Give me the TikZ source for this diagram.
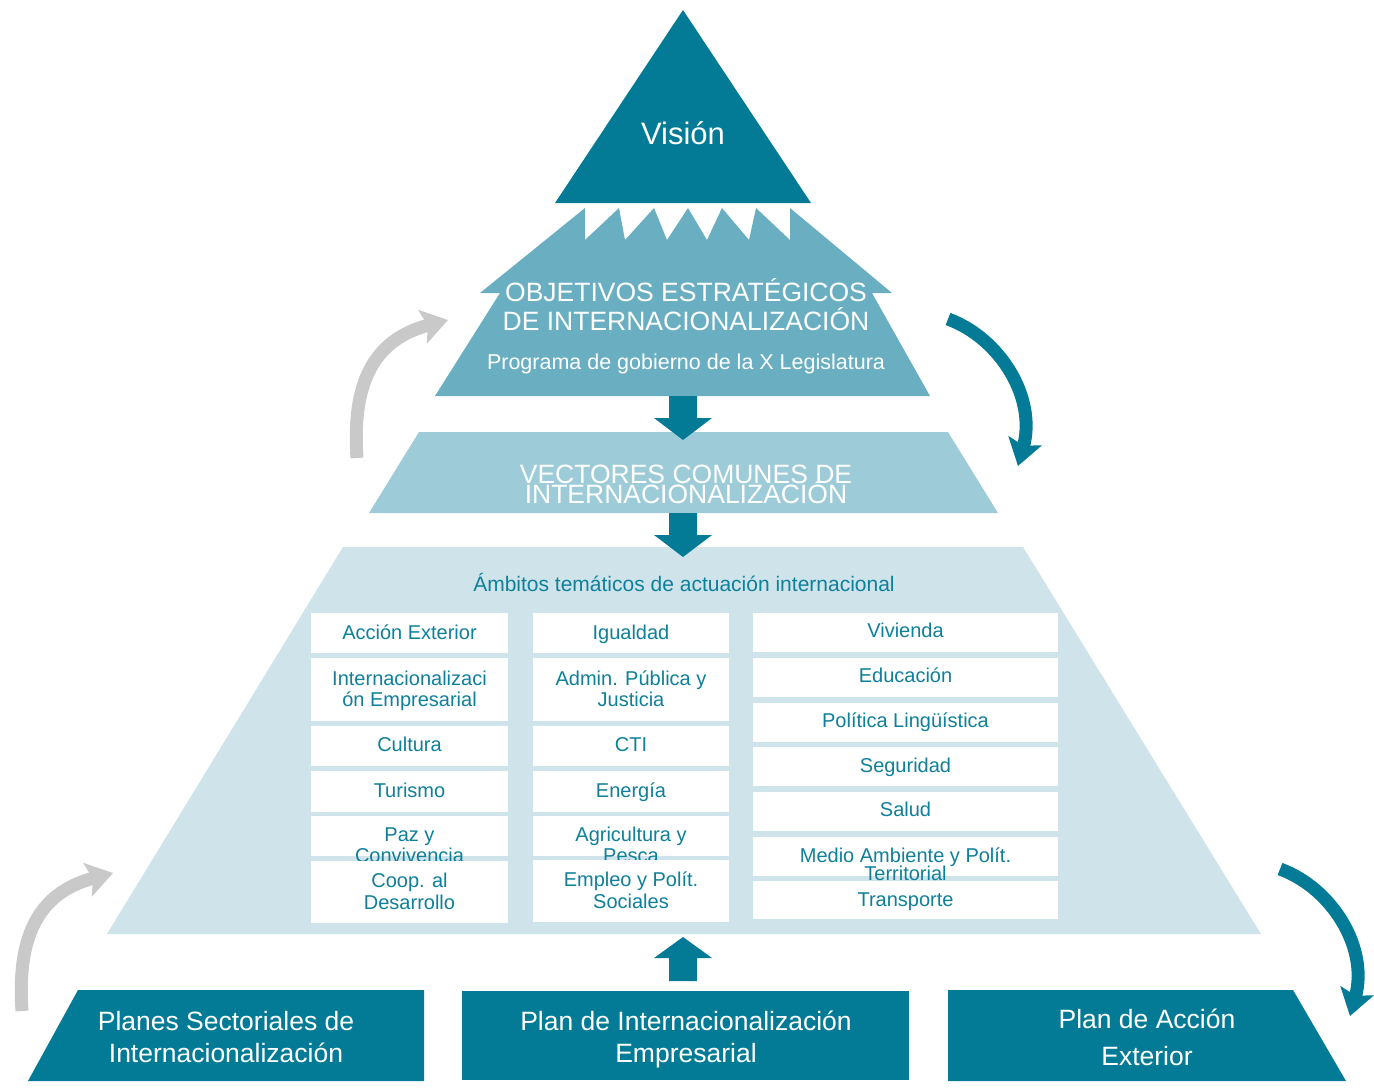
\documentclass[tikz,border=0pt]{standalone}
\usepackage{fontspec}
\setmainfont{Liberation Sans}
\usetikzlibrary{positioning, arrows.meta, calc}

\definecolor{darkteal}{HTML}{037B96}
\definecolor{objblue}{HTML}{69AFC1}
\definecolor{vecblue}{HTML}{9DCCD8}
\definecolor{ambblue}{HTML}{CEE4EA}
\definecolor{arcgray}{HTML}{C9C9C9}
\definecolor{celltxt}{HTML}{0F809A}

\def\tightlines{\lineskiplimit=-100pt\relax}

\tikzset{
    bigtext/.style={text=white, font=\fontsize{26.5}{32}\selectfont, align=center, inner sep=0pt},
    celltext/.style={text=celltxt, align=center, inner sep=0pt},
    oneline/.style={text height=14.5pt, text depth=0pt},
    twoline/.style={},
    grayarc/.style={draw=arcgray, line width=13pt, -{Stealth[length=26pt, width=34pt, inset=5pt]}},
    tealarc/.style={draw=darkteal, line width=13pt, -{Stealth[length=26pt, width=34pt, inset=5pt]}},
}

\begin{document}
\begin{tikzpicture}[x=1pt, y=-1pt]
    \useasboundingbox (0,0) rectangle (1374,1089);

    % vision
    \fill[darkteal] (683,10) -- (811,203) -- (555,203) -- cycle;
    \node[bigtext, font=\fontsize{31}{34}\selectfont] (vision) at (683,133) {Visión};

    % objetivos
    \fill[objblue] (435,396) -- (500,293) -- (480,293) -- (585,208) -- (585,240)
        -- (619,208) -- (625,240) -- (654,208) -- (667,240) -- (688,208)
        -- (707,240) -- (722,208) -- (749,240) -- (756,208) -- (790,240)
        -- (790,208) -- (892,293) -- (872,293) -- (930,396) -- cycle;
    \node[bigtext, font=\fontsize{26.5}{29}\selectfont] (objetivos) at (686,305)
        {OBJETIVOS ESTRATÉGICOS\\DE INTERNACIONALIZACIÓN};
    \node[bigtext, font=\fontsize{21.5}{24}\selectfont] (programa) at (686,364)
        {Programa de gobierno de la X Legislatura};

    % vectores
    \fill[vecblue] (419,432) -- (948,432) -- (998,513) -- (369,513) -- cycle;
    \node[bigtext, font=\fontsize{26.5}{20}\selectfont\tightlines] (vectores) at (686,484)
        {VECTORES COMUNES DE\\INTERNACIONALIZACIÓN};

    % ambitos
    \fill[ambblue] (343,547) -- (1023,547) -- (1261,934) -- (107,934) -- cycle;
    \node[celltext, font=\fontsize{21}{24}\selectfont] (ambitos) at (684,582)
        {Ámbitos temáticos de actuación internacional};

    % down arrows
    \foreach \t in {396,513}
    {
        \fill[darkteal] (669,\t) -- (697,\t) -- (697,{\t+22}) -- (712,{\t+22})
            -- (683,{\t+44}) -- (654,{\t+22}) -- (669,{\t+22}) -- cycle;
    }

    \foreach \name/\xa/\ya/\xb/\yb/\dy/\ls/\st/\txt in {
        accion/311/613/508/653/-1/21.5/oneline/Acción Exterior,
        internac/311/658/508/721/1.5/21.5/twoline/{Internacionalizaci\\ón Empresarial},
        cultura/311/726/508/766/-2/21.5/oneline/Cultura,
        turismo/311/771/508/812/-1.5/21.5/oneline/Turismo,
        paz/311/816/508/856/9/21/twoline/{Paz y\\Convivencia},
        coop/311/861/508/923/-1/22/twoline/{Coop. al\\Desarrollo},
        igualdad/533/613/729/653/-1/21.5/oneline/Igualdad,
        admin/533/658/729/721/-1/21.5/twoline/{Admin. Pública y\\Justicia},
        cti/533/726/729/766/-2/21.5/oneline/CTI,
        energia/533/771/729/812/-1.5/21.5/oneline/Energía,
        agri/533/816/729/856/9/21/twoline/{Agricultura y\\Pesca},
        empleo/533/860/729/922/-1/22/twoline/{Empleo y Polít.\\Sociales},
        vivienda/753/613/1058/652/-2.5/21.5/oneline/Vivienda,
        educacion/753/658/1058/697/-2.5/21.5/oneline/Educación,
        politica/753/703/1058/742/-2.5/21.5/oneline/Política Lingüística,
        seguridad/753/747/1058/786/-1.5/21.5/oneline/Seguridad,
        salud/753/792/1058/831/-2.5/21.5/oneline/Salud,
        medio/753/837/1058/876/7.5/18/twoline/{Medio Ambiente y Polít.\\Territorial},
        transporte/753/881/1058/919/-1/21.5/oneline/Transporte}
    {
        \fill[white] (\xa,\ya) rectangle (\xb,\yb);
        \node[celltext, \st, font=\fontsize{20}{\ls}\selectfont\tightlines] (\name)
            at ({(\xa+\xb)/2},{(\ya+\yb)/2+\dy}) {\txt};
    }

    % up arrow
    \fill[darkteal] (669,981) -- (697,981) -- (697,958) -- (712,958)
        -- (683,937) -- (654,958) -- (669,958) -- cycle;

    % bottom plans
    \fill[darkteal] (78,990) -- (424,990) -- (424,1081) -- (28,1081) -- cycle;
    \node[bigtext] (planes) at (226,1037) {Planes Sectoriales de\\Internacionalización};
    \fill[darkteal] (462,991) rectangle (909,1080);
    \node[bigtext] (planint) at (686,1039) {Plan de Internacionalización\\Empresarial};
    \fill[darkteal] (948,990) -- (1293,990) -- (1346,1081) -- (948,1081) -- cycle;
    \node[bigtext, font=\fontsize{26.5}{37}\selectfont] (planaccion) at (1147,1037)
        {Plan de Acción\\Exterior};

    % curved arrows
    \coordinate (gtop0) at (357,458);
    \coordinate (gtop1) at (448,320);
    \coordinate (ttop0) at (948,319);
    \coordinate (ttop1) at (1018,466);
    \coordinate (gbot0) at (22,1011);
    \coordinate (gbot1) at (113,873);
    \coordinate (tbot0) at (1280,869);
    \coordinate (tbot1) at (1350,1016);

    \draw[grayarc] (gtop0) .. controls (352,385) and (372,340) .. (gtop1);
    \draw[tealarc] (ttop0) .. controls (1000,338) and (1037,398) .. (ttop1);
    \draw[grayarc] (gbot0) .. controls (17,938) and (37,893) .. (gbot1);
    \draw[tealarc] (tbot0) .. controls (1332,888) and (1369,948) .. (tbot1);
\end{tikzpicture}
\end{document}
